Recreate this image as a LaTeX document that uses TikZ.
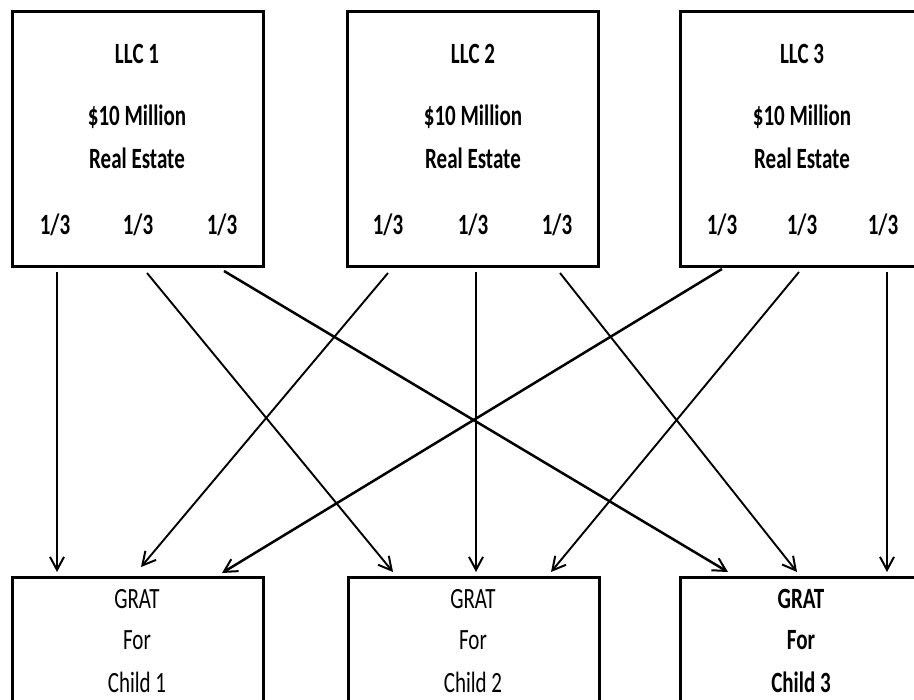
\documentclass[tikz,border=0pt]{standalone}
\usepackage{fontspec}
\usepackage{graphicx}
\setmainfont{Carlito}
\usetikzlibrary{arrows.meta}
% tall, narrow lettering
\newcommand\tallText[1]{\scalebox{1}[1.4]{#1}}
\tikzset{
  holder/.style={draw, line width=3pt, inner sep=0pt, minimum width=251pt},
  llcbox/.style={holder, minimum height=255pt},
  gratbox/.style={holder, minimum height=162pt},
  lbl/.style={inner sep=0pt, font=\fontsize{21}{24}\selectfont},
  blbl/.style={lbl, font=\fontsize{21}{24}\selectfont\bfseries},
  share/.style={line width=1.9pt, -{Straight Barb[length=13pt,width=14pt,line width=2pt]}},
  bigshare/.style={share, line width=2.5pt}
}
\begin{document}
\begin{tikzpicture}[x=1pt,y=-1pt]
\useasboundingbox (0,0) rectangle (914,700);
\clip (0,0) rectangle (914,700);

% ---- LLC boxes ----
\node[llcbox] (llc1) at (137.5,139.5) {};
\node[llcbox] (llc2) at (472.5,139.5) {};
\node[llcbox] (llc3) at (805.5,139.5) {};

\foreach \n/\cx/\ax/\bx/\cxx in {1/137/55/138/222, 2/473/388/473/557, 3/802/722/802/883}{
  \node[blbl] (t\n) at (\cx,54)  {\tallText{LLC \n}};
  \node[blbl] (v\n) at (\cx,117) {\tallText{\$10 Million}};
  \node[blbl] (r\n) at (\cx,158) {\tallText{Real Estate}};
  \node[blbl] (p\n a) at (\ax,225)  {\tallText{1/3}};
  \node[blbl] (p\n b) at (\bx,225)  {\tallText{1/3}};
  \node[blbl] (p\n c) at (\cxx,225) {\tallText{1/3}};
}

% ---- GRAT boxes ----
\node[gratbox] (grat1) at (137.5,659) {};
\node[gratbox] (grat2) at (473.5,659) {};
\node[gratbox] (grat3) at (805.5,659) {};

\node[lbl] (g1a) at (137,599) {\tallText{GRAT}};
\node[lbl] (g1b) at (137,640) {\tallText{For}};
\node[lbl] (g1c) at (137,682) {\tallText{Child 1}};
\node[lbl] (g2a) at (473,599) {\tallText{GRAT}};
\node[lbl] (g2b) at (473,640) {\tallText{For}};
\node[lbl] (g2c) at (473,682) {\tallText{Child 2}};
\node[blbl] (g3a) at (801,599) {\tallText{GRAT}};
\node[blbl] (g3b) at (801,640) {\tallText{For}};
\node[blbl] (g3c) at (801,682) {\tallText{Child 3}};

% ---- connector ends ----
\coordinate (s11) at (57,272);
\coordinate (s12) at (147,273);
\coordinate (s13) at (224,271);
\coordinate (s21) at (388,273);
\coordinate (s22) at (476,272);
\coordinate (s23) at (560,273);
\coordinate (s31) at (722,269);
\coordinate (s32) at (799,272);
\coordinate (s33) at (887,272);

\coordinate (e11) at (57,572);
\coordinate (e12) at (393,572);
\coordinate (e13) at (728,572);
\coordinate (e21) at (141,567);
\coordinate (e22) at (476,572);
\coordinate (e23) at (797,572);
\coordinate (e31) at (222,573);
\coordinate (e32) at (551,572);
\coordinate (e33) at (887,572);

% ---- one third of each LLC to each GRAT ----
\draw[share]    (s11) -- (e11);
\draw[share]    (s12) -- (e12);
\draw[bigshare] (s13) -- (e13);
\draw[share]    (s21) -- (e21);
\draw[share]    (s22) -- (e22);
\draw[share]    (s23) -- (e23);
\draw[bigshare] (s31) -- (e31);
\draw[share]    (s32) -- (e32);
\draw[share]    (s33) -- (e33);
\end{tikzpicture}
\end{document}
